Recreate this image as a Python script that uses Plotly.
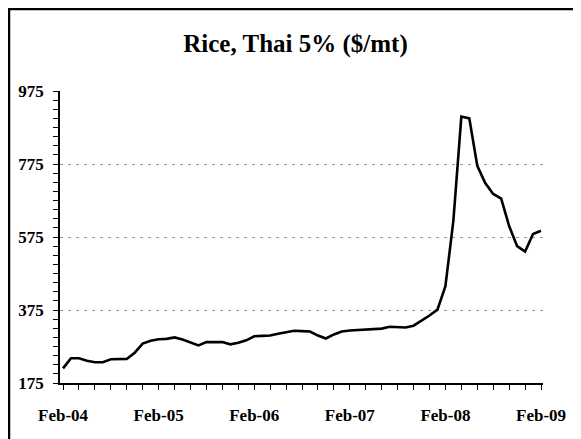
import plotly.graph_objects as go

# Monthly Thai 5% rice price, Feb-04 .. Feb-09 ($/mt)
months = [f"{m}-{y:02d}" for y in range(4, 10) for m in
          ["Jan", "Feb", "Mar", "Apr", "May", "Jun", "Jul", "Aug", "Sep", "Oct", "Nov", "Dec"]]
months = months[1:62]
prices = [215, 243, 243, 236, 232, 232, 240, 240, 241, 258,
          283, 291, 295, 296, 300, 294, 285, 278, 287, 287,
          287, 281, 285, 292, 303, 304, 305, 310, 315, 318,
          317, 316, 305, 297, 308, 316, 319, 320, 321, 322,
          324, 329, 327, 327, 332, 345, 360, 376, 440, 620,
          905, 900, 770, 723, 693, 680, 605, 550, 535, 583,
          592]
tick_labels = ["Feb-04", "Feb-05", "Feb-06", "Feb-07", "Feb-08", "Feb-09"]
y_ticks = [175, 375, 575, 775, 975]

x_idx = list(range(len(prices)))
tick_pos = [months.index(t) for t in tick_labels]

fig = go.Figure(go.Scatter(x=x_idx, y=prices, mode="lines",
                           line=dict(color="black", width=2.6),
                           hoverinfo="skip"))

font_fam = "Liberation Serif"
W, H = 573, 431
L, R, T, B = 52, 38, 83, 56
fig.update_layout(
    width=W, height=H,
    margin=dict(l=L, r=R, t=T, b=B, pad=0),
    paper_bgcolor="white", plot_bgcolor="white",
    showlegend=False,
    title=dict(text="<b>Rice, Thai 5% ($/mt)</b>", x=287.5 / W, xref="container",
               xanchor="center", y=1 - 35 / H, yref="container", yanchor="middle",
               font=dict(family=font_fam, size=25, color="black")),
    font=dict(family=font_fam, size=17, color="black"),
)
fig.update_xaxes(
    range=[-0.38, 60.25], tickmode="array", tickvals=tick_pos, ticktext=tick_labels,
    showline=True, linecolor="black", linewidth=1.5,
    ticks="outside", ticklen=5, tickcolor="black", tickwidth=1,
    minor=dict(tickmode="linear", tick0=0, dtick=2, ticks="outside", ticklen=5,
               tickcolor="black", showgrid=False),
    showgrid=False, zeroline=False, ticklabelstandoff=11, automargin=False,
    tickfont=dict(family=font_fam, size=17, color="black", weight="bold"),
)
fig.update_yaxes(
    range=[175, 975], tickmode="array", tickvals=y_ticks,
    showline=True, linecolor="black", linewidth=1.5,
    ticks="outside", ticklen=5, tickcolor="black", tickwidth=1,
    minor=dict(tickmode="linear", tick0=175, dtick=25, ticks="outside", ticklen=5,
               tickcolor="black", showgrid=False),
    showgrid=True, gridcolor="#999999", griddash="3px,5px", gridwidth=1,
    zeroline=False, ticklabelstandoff=6, automargin=False,
    tickfont=dict(family=font_fam, size=17, color="black", weight="bold"),
)
pw, ph = W - L - R, H - T - B
fig.add_shape(type="line", xref="paper", yref="paper",
              x0=-L / pw, x1=(W - L) / pw, y0=(H - B - 1) / ph, y1=(H - B - 1) / ph,
              line=dict(color="black", width=2.5), layer="above")
fig.add_shape(type="line", xref="paper", yref="paper",
              x0=(1 - L) / pw, x1=(1 - L) / pw, y0=-B / ph, y1=(H - B) / ph,
              line=dict(color="black", width=2.5), layer="above")
fig.write_html("out.html")
